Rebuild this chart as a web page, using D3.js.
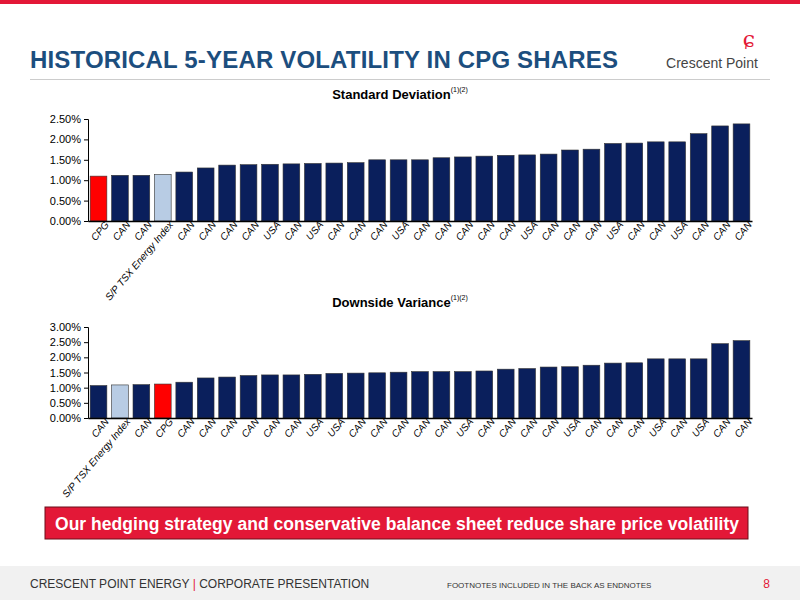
<!DOCTYPE html>
<html><head><meta charset="utf-8">
<script src="https://cdn.jsdelivr.net/npm/d3@7"></script>
<style>body{margin:0;background:#fff}svg{display:block;font-family:"Liberation Sans",Arial,sans-serif}</style>
</head><body>
<svg width="800" height="600"></svg>
<script>
const sdLabels = ["CPG","CAN","CAN","S/P TSX Energy Index","CAN","CAN","CAN","CAN","USA","CAN","USA","CAN","CAN","CAN","USA","CAN","CAN","CAN","CAN","CAN","USA","CAN","CAN","CAN","USA","CAN","CAN","USA","CAN","CAN","CAN"];
const sdValues = [1.10,1.12,1.12,1.14,1.20,1.30,1.37,1.38,1.39,1.40,1.41,1.42,1.43,1.50,1.50,1.50,1.55,1.57,1.59,1.61,1.62,1.64,1.74,1.76,1.90,1.91,1.94,1.94,2.14,2.33,2.38];
const sdTicks = [0,0.5,1,1.5,2,2.5];

const dvLabels = ["CAN","S/P TSX Energy Index","CAN","CPG","CAN","CAN","CAN","CAN","CAN","CAN","USA","USA","CAN","CAN","CAN","CAN","CAN","USA","CAN","CAN","CAN","CAN","USA","CAN","CAN","CAN","USA","CAN","USA","CAN","CAN"];
const dvValues = [1.07,1.09,1.10,1.12,1.18,1.32,1.35,1.40,1.42,1.42,1.44,1.47,1.48,1.49,1.51,1.53,1.53,1.53,1.55,1.61,1.63,1.68,1.69,1.74,1.81,1.82,1.95,1.95,1.95,2.45,2.55];
const dvTicks = [0,0.5,1,1.5,2,2.5,3];

const svg = d3.select("svg");

// slide chrome
svg.append("rect").attr("width",800).attr("height",4).attr("fill","#e31837");
svg.append("text").attr("x",30).attr("y",68).attr("font-size",24).attr("font-weight","bold")
  .attr("fill","#1c4e7e").attr("textLength",588).text("HISTORICAL 5-YEAR VOLATILITY IN CPG SHARES");
svg.append("text").attr("x",749).attr("y",47).attr("text-anchor","middle").attr("font-size",22)
  .attr("fill","#e31837").attr("font-family","DejaVu Serif").text("ɕ");
svg.append("text").attr("x",712).attr("y",68).attr("text-anchor","middle").attr("font-size",14)
  .attr("fill","#444").text("Crescent Point");
svg.append("line").attr("x1",30).attr("x2",770).attr("y1",79.5).attr("y2",79.5).attr("stroke","#ccc");

function colorFor(l){ return l==="CPG" ? "#ff0000" : l.startsWith("S/P") ? "#b8cce4" : "#0a1f5c"; }

function barChart(labels, values, ticks, top, bottom, title){
  const x = d3.scaleBand().domain(d3.range(labels.length)).range([88,752]).paddingInner(0.22).paddingOuter(0.1);
  const y = d3.scaleLinear().domain([0, ticks[ticks.length-1]]).range([bottom, top]);
  const g = svg.append("g");
  const t = g.append("text").attr("x",400).attr("y",top-20).attr("text-anchor","middle")
    .attr("font-size",13).attr("font-weight","bold").attr("fill","#000").text(title);
  t.append("tspan").attr("font-size",7).attr("font-weight","normal").attr("dy",-7).text("(1)(2)");
  g.selectAll("rect").data(values).join("rect")
    .attr("x",(d,i)=>x(i)).attr("width",x.bandwidth())
    .attr("y",d=>y(d)).attr("height",d=>bottom-y(d))
    .attr("fill",(d,i)=>colorFor(labels[i])).attr("stroke","#333").attr("stroke-width",0.6);
  const ya = g.append("g").attr("transform","translate(88,0)")
    .call(d3.axisLeft(y).tickValues(ticks).tickSize(4).tickFormat(d=>d3.format(".2f")(d)+"%"));
  ya.selectAll("text").attr("font-size",11).attr("fill","#000");
  ya.select(".domain").attr("stroke","#000");
  const xa = g.append("g").attr("transform",`translate(0,${bottom})`)
    .call(d3.axisBottom(x).tickSize(0).tickFormat(i=>labels[i]));
  xa.select(".domain").attr("stroke","#000").attr("stroke-width",1.5);
  xa.selectAll("text").attr("font-size",10).attr("font-style","italic").attr("fill","#000")
    .attr("text-anchor","end").attr("dx",4).attr("dy",8)
    .attr("transform","rotate(-50)");
}

barChart(sdLabels, sdValues, sdTicks, 119, 221, "Standard Deviation");
barChart(dvLabels, dvValues, dvTicks, 327, 418, "Downside Variance");

// banner
svg.append("rect").attr("x",45).attr("y",507).attr("width",703).attr("height",32)
  .attr("fill","#e31837").attr("stroke","#6b0f1a");
svg.append("text").attr("x",55).attr("y",530).attr("font-size",17.5).attr("font-weight","bold")
  .attr("fill","#fff").attr("textLength",684).text("Our hedging strategy and conservative balance sheet reduce share price volatility");

// footer
svg.append("rect").attr("y",566).attr("width",800).attr("height",34).attr("fill","#f1f1f1");
const f = svg.append("text").attr("x",30).attr("y",588).attr("font-size",12).attr("fill","#333");
f.append("tspan").text("CRESCENT POINT ENERGY ");
f.append("tspan").attr("fill","#e31837").text("|");
f.append("tspan").text(" CORPORATE PRESENTATION");
svg.append("text").attr("x",447).attr("y",588).attr("font-size",8).attr("fill","#333")
  .text("FOOTNOTES INCLUDED IN THE BACK AS ENDNOTES");
svg.append("text").attr("x",770).attr("y",588).attr("text-anchor","end").attr("font-size",12)
  .attr("fill","#e31837").text("8");
</script>
</body></html>
